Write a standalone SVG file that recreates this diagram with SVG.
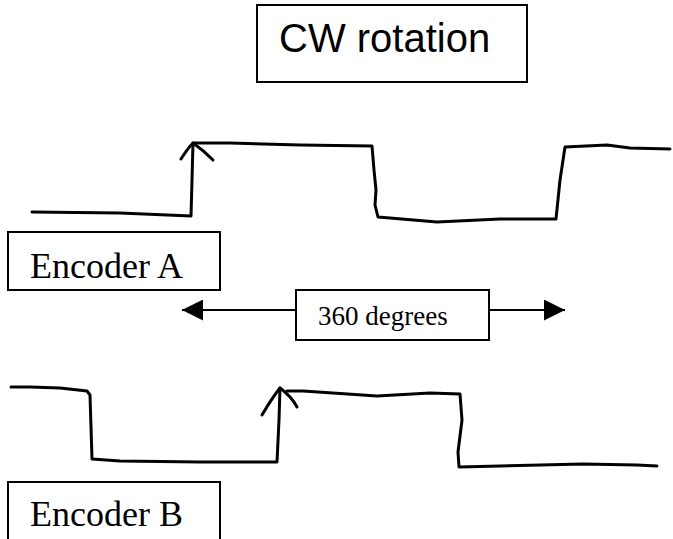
<svg xmlns="http://www.w3.org/2000/svg" width="673" height="539" viewBox="0 0 673 539">
<style>
.box{fill:#fff;stroke:#000;stroke-width:2}
.wave{fill:none;stroke:#000;stroke-width:3;stroke-linejoin:round;stroke-linecap:round}
.conn{fill:none;stroke:#000;stroke-width:2}
.sans{font-family:"Liberation Sans",Arial,sans-serif;fill:#000}
.serif{font-family:"Liberation Serif","Times New Roman",serif;fill:#000}
</style>
<defs>
<marker id="big" viewBox="0 0 20 20" refX="20" refY="10" markerWidth="21" markerHeight="21" markerUnits="userSpaceOnUse" orient="auto">
<path d="M0,0 L20,10 L0,20 z" fill="#000"/>
</marker>
</defs>
<g id="title">
<rect class="box" x="257" y="5" width="270" height="77"/>
<text class="sans" x="279" y="52" font-size="40">CW rotation</text>
</g>
<g id="waveA">
<path class="wave" d="M32,212 L120,213 L191,216 L192,180 L193,143 L230,143 L300,145 L372,146 L374,170 L376,190 L375,205 L378,217 L437,222 L500,219 L556,219 L560,180 L565,147 L607,145 L630,148 L670,149"/>
<path class="wave" d="M181,159 Q188,148 193,143 Q203,150 213,160"/>
</g>
<g id="labelA">
<rect class="box" x="8" y="232" width="212" height="58"/>
<text class="serif" x="30" y="278" font-size="36">Encoder A</text>
</g>
<g id="span">
<rect class="box" x="296" y="290" width="193" height="50"/>
<text class="serif" x="318" y="325" font-size="27">360 degrees</text>
</g>
<g id="connectors">
<line class="conn" x1="296" y1="310" x2="182" y2="310" marker-end="url(#big)"/>
<line class="conn" x1="489" y1="310" x2="565" y2="310" marker-end="url(#big)"/>
</g>
<g id="waveB">
<path class="wave" d="M11,387 L30,387 L60,388 L87,391 L90,395 L92,459 L120,461 L200,462 L277,462 L279,420 L280,388 M287,391 L303,391 L377,396 L430,393 L460,394 L462,420 L458,452 L459,467 L583,464 L637,465 L657,466"/>
<path class="wave" d="M262,415 Q272,398 280,388 Q291,396 297,407"/>
</g>
<g id="labelB">
<rect class="box" x="8" y="482" width="212" height="70"/>
<text class="serif" x="30" y="526" font-size="36">Encoder B</text>
</g>
</svg>
